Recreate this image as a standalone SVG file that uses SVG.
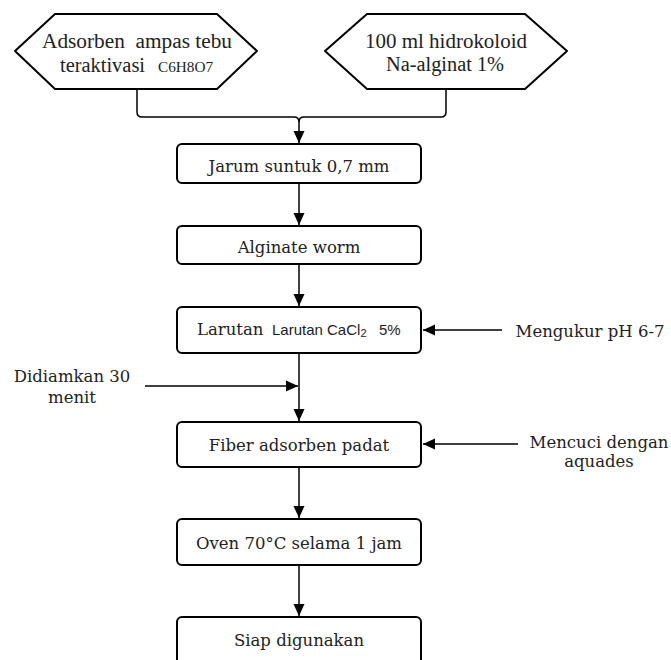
<svg xmlns="http://www.w3.org/2000/svg" width="671" height="660" viewBox="0 0 671 660">
<style>
.shape{fill:#fff;stroke:#000;stroke-width:2}
.t{font-family:"DejaVu Serif",serif;font-size:16.5px;fill:#222;text-anchor:middle}
.h{font-family:"Liberation Serif",serif;font-size:20px;fill:#222;text-anchor:middle}
.s{font-family:"Liberation Sans",Arial,sans-serif;font-size:15px;fill:#222}
.c{fill:none;stroke:#000;stroke-width:1.5}
</style>
<defs>
<marker id="ah" markerUnits="userSpaceOnUse" markerWidth="12" markerHeight="14" viewBox="0 0 12 14" refX="12" refY="7" orient="auto">
<path d="M0,1.5 L12,7 L0,12.5 Z" fill="#000"/>
</marker>
</defs>
<rect width="671" height="660" fill="#fff"/>
<g id="connectors">
<path class="c" d="M137,89 V112 Q137,117 142,117 H294 Q299,117 299,122 V143" marker-end="url(#ah)"/>
<path class="c" d="M446,89 V112 Q446,117 441,117 H304 Q299,117 299,122"/>
<path class="c" d="M299,183 V225" marker-end="url(#ah)"/>
<path class="c" d="M299,264 V306" marker-end="url(#ah)"/>
<path class="c" d="M299,353 V421" marker-end="url(#ah)"/>
<path class="c" d="M299,467 V518" marker-end="url(#ah)"/>
<path class="c" d="M299,565 V616" marker-end="url(#ah)"/>
<path class="c" d="M145,386 H298" marker-end="url(#ah)"/>
<path class="c" d="M502,330 H423" marker-end="url(#ah)"/>
<path class="c" d="M518,444 H423" marker-end="url(#ah)"/>
</g>
<g id="hex1">
<path class="shape" stroke-linejoin="round" d="M15,51 L55,14 H217 L257,51 L217,89 H55 Z"/>
<text class="h" x="137" y="48" textLength="190" lengthAdjust="spacingAndGlyphs">Adsorben&#160; ampas tebu</text>
<text class="h" x="60" y="72" style="text-anchor:start" textLength="85" lengthAdjust="spacingAndGlyphs">teraktivasi</text>
<text class="h" x="158" y="72" style="text-anchor:start;font-size:15px" textLength="55" lengthAdjust="spacingAndGlyphs">C6H8O7</text>
</g>
<g id="hex2">
<path class="shape" stroke-linejoin="round" d="M325,51 L367,14 H525 L567,51 L525,89 H367 Z"/>
<text class="h" x="446" y="48" textLength="162" lengthAdjust="spacingAndGlyphs">100 ml hidrokoloid</text>
<text class="h" x="445" y="71" textLength="118" lengthAdjust="spacingAndGlyphs">Na-alginat 1%</text>
</g>
<g id="box1">
<rect class="shape" x="177" y="144" width="244" height="39" rx="5"/>
<text class="t" x="299" y="172">Jarum suntuk 0,7 mm</text>
</g>
<g id="box2">
<rect class="shape" x="177" y="226" width="244" height="38" rx="5"/>
<text class="t" x="299" y="253">Alginate worm</text>
</g>
<g id="box3">
<rect class="shape" x="177" y="307" width="244" height="46" rx="5"/>
<text class="t" x="197" y="335" style="text-anchor:start">Larutan</text>
<text class="s" x="272" y="335">Larutan CaCl<tspan font-size="11" dy="2">2</tspan><tspan x="379" dy="-2">5%</tspan></text>
</g>
<g id="box4">
<rect class="shape" x="177" y="422" width="244" height="45" rx="5"/>
<text class="t" x="299" y="451">Fiber adsorben padat</text>
</g>
<g id="box5">
<rect class="shape" x="177" y="519" width="244" height="46" rx="5"/>
<text class="t" x="299" y="549">Oven 70°C selama 1 jam</text>
</g>
<g id="box6">
<rect class="shape" x="177" y="617" width="244" height="50" rx="5"/>
<text class="t" x="299" y="646">Siap digunakan</text>
</g>
<g id="label-ph">
<text class="t" x="590" y="337">Mengukur pH 6-7</text>
</g>
<g id="label-diam">
<text class="t" x="72" y="382">Didiamkan 30</text>
<text class="t" x="72" y="403">menit</text>
</g>
<g id="label-cuci">
<text class="t" x="599" y="448">Mencuci dengan</text>
<text class="t" x="599" y="467">aquades</text>
</g>
</svg>
